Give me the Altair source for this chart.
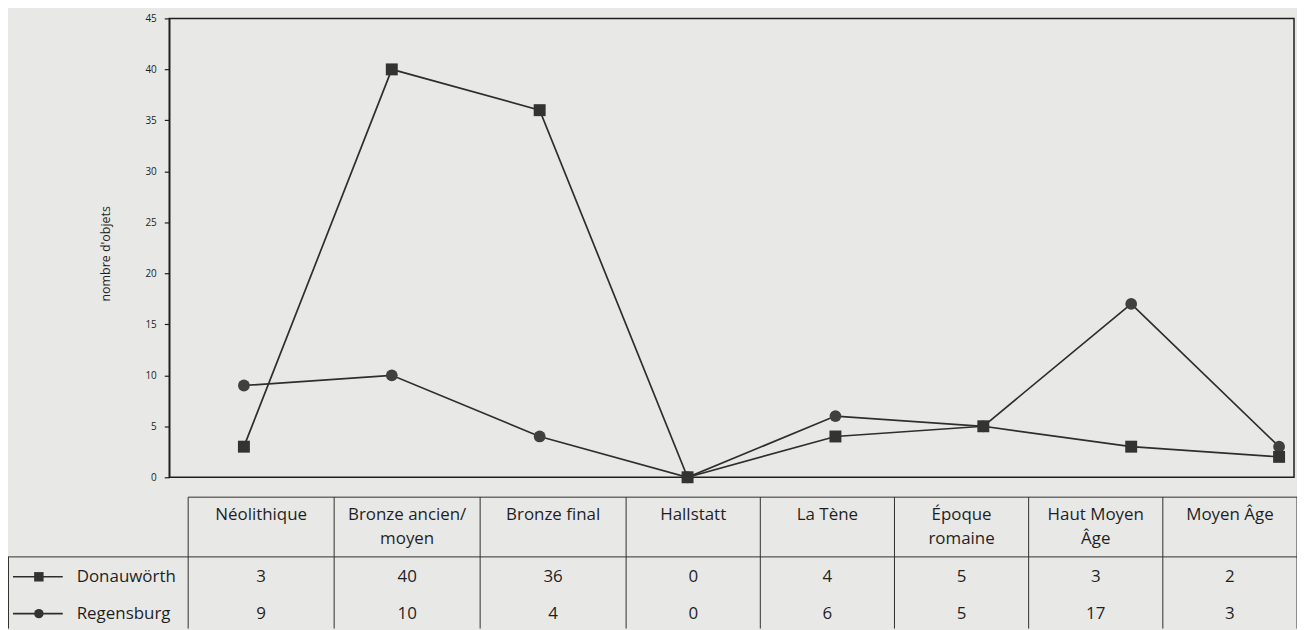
import altair as alt
import pandas as pd

# ---- data ----
periods = ["Néolithique", "Bronze ancien/\nmoyen", "Bronze final", "Hallstatt",
           "La Tène", "Époque\nromaine", "Haut Moyen\nÂge", "Moyen Âge"]
series_names = ["Donauwörth", "Regensburg"]
donauworth = [3, 40, 36, 0, 4, 5, 3, 2]
regensburg = [9, 10, 4, 0, 6, 5, 17, 3]
y_ticks = [0, 5, 10, 15, 20, 25, 30, 35, 40, 45]
y_title = "nombre d'objets"

BG = "#e8e9e7"
INK = "#1f1f1f"
LINE = "#2e2e2e"
FONT = "Open Sans"
FS = 17

W, H = 1295, 622

rows = []
for i, p in enumerate(periods):
    rows.append({"idx": i, "col": i + 0.5, "period": p, "series": "Donauwörth", "value": donauworth[i]})
    rows.append({"idx": i, "col": i + 0.5, "period": p, "series": "Regensburg", "value": regensburg[i]})
df = pd.DataFrame(rows)
df_d = df[df.series == "Donauwörth"]
df_r = df[df.series == "Regensburg"]
header_df = pd.DataFrame({"col": [i + 0.5 for i in range(len(periods))], "period": periods})
bounds_df = pd.DataFrame({"b": list(range(len(periods) + 1))})
legend_df = pd.DataFrame({"series": series_names, "shape": ["square", "circle"]})
one = pd.DataFrame({"k": [0]})

# ---- scales ----
x_plot = alt.Scale(domain=[0, 7], range=[237, 1277], nice=False, zero=False)
y_plot = alt.Scale(domain=[0, 45], range=[470, 9], nice=False, zero=False)
x_tab = alt.Scale(domain=[0, 3, 8], range=[181, 621, 1295], nice=False, zero=False)
y_row = alt.Scale(type="point", domain=series_names, range=[570, 607], padding=0)

y_axis = alt.Axis(values=y_ticks, offset=-162, tickSize=5, tickWidth=1.2, tickColor=INK,
                  labelPadding=8, labelFontSize=10, labelFont=FONT, labelColor=INK,
                  domainColor=INK, domainWidth=1.5, grid=False,
                  title=y_title, titleFont=FONT, titleFontSize=12.5,
                  titleFontWeight="normal", titleColor=INK, titlePadding=33, titleY=245)

frame = alt.Chart(one).mark_rect(fillOpacity=0, stroke=INK, strokeWidth=1.5).encode(
    x=alt.value(162), x2=alt.value(1292), y=alt.value(9), y2=alt.value(470))

lines = alt.Chart(df).mark_line(color=LINE, strokeWidth=1.7).encode(
    x=alt.X("idx:Q", scale=x_plot, axis=None),
    y=alt.Y("value:Q", scale=y_plot, axis=y_axis),
    detail="series:N")

pts_r = alt.Chart(df_r).mark_point(shape="circle", filled=True, size=140, color="#404040", opacity=1).encode(
    x=alt.X("idx:Q", scale=x_plot, axis=None),
    y=alt.Y("value:Q", scale=y_plot, axis=None))

pts_d = alt.Chart(df_d).mark_point(shape="square", filled=True, size=144, color="#333333", opacity=1).encode(
    x=alt.X("idx:Q", scale=x_plot, axis=None),
    y=alt.Y("value:Q", scale=y_plot, axis=None))

# ---- table ----
vlines = alt.Chart(bounds_df).mark_rule(color=LINE, strokeWidth=1).encode(
    x=alt.X("b:Q", scale=x_tab, axis=None), y=alt.value(490), y2=alt.value(H))
top_line = alt.Chart(one).mark_rule(color=LINE, strokeWidth=1).encode(
    x=alt.value(181), x2=alt.value(1295), y=alt.value(490))
head_line = alt.Chart(one).mark_rule(color=LINE, strokeWidth=1).encode(
    x=alt.value(0), x2=alt.value(1295), y=alt.value(550))
leg_left = alt.Chart(one).mark_rule(color=LINE, strokeWidth=1).encode(
    x=alt.value(0.5), y=alt.value(550), y2=alt.value(H))

header = alt.Chart(header_df).mark_text(font=FONT, fontSize=FS, color=INK, baseline="top",
                                        align="center", lineBreak="\n", lineHeight=24).encode(
    x=alt.X("col:Q", scale=x_tab, axis=None), y=alt.value(500), text="period:N")

cells = alt.Chart(df).mark_text(font=FONT, fontSize=FS, color=INK, baseline="middle",
                                align="center").encode(
    x=alt.X("col:Q", scale=x_tab, axis=None),
    y=alt.Y("series:N", scale=y_row, axis=None),
    text="value:Q")

leg_rule = alt.Chart(legend_df).mark_rule(color=LINE, strokeWidth=1.6).encode(
    x=alt.value(5), x2=alt.value(55), y=alt.Y("series:N", scale=y_row, axis=None))
leg_pts = alt.Chart(legend_df).mark_point(filled=True, size=90, color="#333333", opacity=1).encode(
    x=alt.value(31), y=alt.Y("series:N", scale=y_row, axis=None),
    shape=alt.Shape("shape:N", scale=None, legend=None))
leg_txt = alt.Chart(legend_df).mark_text(font=FONT, fontSize=FS, color=INK, baseline="middle",
                                         align="left").encode(
    x=alt.value(69), y=alt.Y("series:N", scale=y_row, axis=None), text="series:N")

chart = alt.layer(
    frame, lines, pts_r, pts_d,
    vlines, top_line, head_line, leg_left,
    header, cells, leg_rule, leg_pts, leg_txt
).resolve_scale(x="independent", y="independent").properties(
    width=W, height=H, padding=0,
    autosize=alt.AutoSizeParams(type="none"),
    background=BG
).configure_view(stroke=None)

chart.save("out.html", embed_options={"renderer": "svg", "actions": False})
